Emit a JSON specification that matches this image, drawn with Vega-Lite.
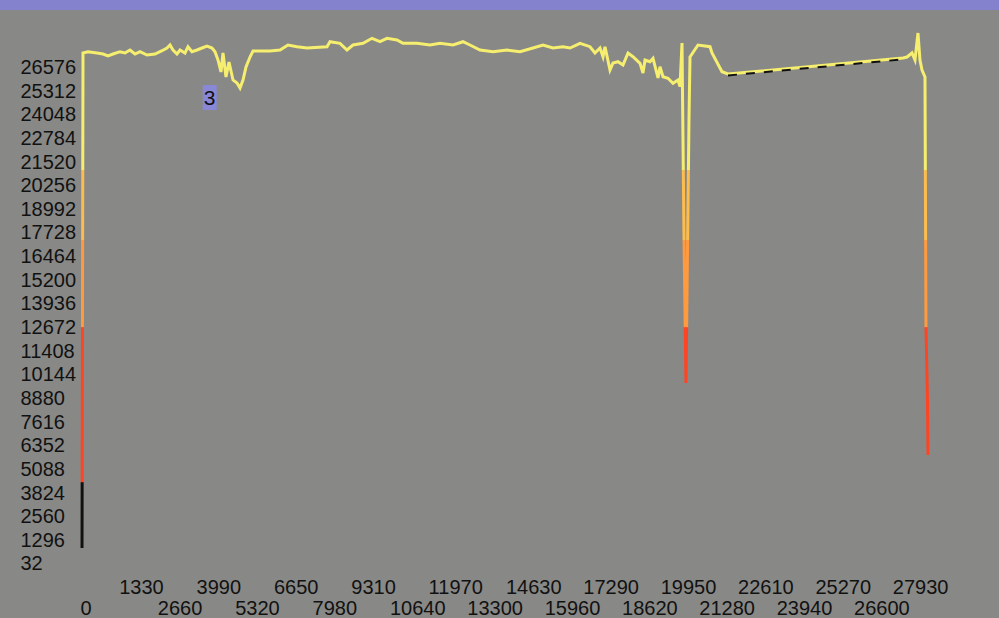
{
  "$schema": "https://vega.github.io/schema/vega-lite/v6.json",
  "width": 999,
  "height": 608,
  "autosize": {"type": "none"},
  "padding": {"top": 10, "left": 0, "right": 0, "bottom": 0},
  "background": "#8482cc",
  "config": {
    "view": {"fill": "#888886", "stroke": null},
    "font": "Liberation Sans",
    "axis": {"labelOverlap": false, "labelBound": false, "labelFlush": false, "labelFontSize": 20, "labelColor": "#111111", "domain": false, "ticks": false, "tickSize": 0, "grid": false, "title": null}
  },
  "datasets": {
    "main": [
      {"x": 69, "y": 887}, {"x": 103, "y": 27350}, {"x": 275, "y": 27420}, {"x": 585, "y": 27350},
      {"x": 791, "y": 27297}, {"x": 963, "y": 27190}, {"x": 1135, "y": 27297}, {"x": 1375, "y": 27420},
      {"x": 1547, "y": 27350}, {"x": 1719, "y": 27510}, {"x": 1891, "y": 27297}, {"x": 2063, "y": 27420},
      {"x": 2304, "y": 27243}, {"x": 2579, "y": 27297}, {"x": 2820, "y": 27473}, {"x": 2991, "y": 27617},
      {"x": 3095, "y": 27778}, {"x": 3198, "y": 27510}, {"x": 3335, "y": 27297}, {"x": 3439, "y": 27510},
      {"x": 3610, "y": 27350}, {"x": 3714, "y": 27687}, {"x": 3851, "y": 27420}, {"x": 4023, "y": 27510},
      {"x": 4195, "y": 27617}, {"x": 4367, "y": 27724}, {"x": 4539, "y": 27617}, {"x": 4642, "y": 27420},
      {"x": 4745, "y": 26976}, {"x": 4848, "y": 26334}, {"x": 4917, "y": 27350}, {"x": 5020, "y": 26067},
      {"x": 5123, "y": 26869}, {"x": 5261, "y": 25907}, {"x": 5398, "y": 25746}, {"x": 5502, "y": 25479},
      {"x": 5605, "y": 25907}, {"x": 5708, "y": 26602}, {"x": 5845, "y": 27136}, {"x": 5949, "y": 27457},
      {"x": 6533, "y": 27457}, {"x": 6877, "y": 27510}, {"x": 7152, "y": 27778}, {"x": 7462, "y": 27687},
      {"x": 7805, "y": 27617}, {"x": 8493, "y": 27687}, {"x": 8595, "y": 27954}, {"x": 8940, "y": 27869},
      {"x": 9181, "y": 27510}, {"x": 9387, "y": 27778}, {"x": 9731, "y": 27869}, {"x": 10040, "y": 28136},
      {"x": 10316, "y": 27954}, {"x": 10556, "y": 28136}, {"x": 10900, "y": 28045}, {"x": 11106, "y": 27869},
      {"x": 11588, "y": 27869}, {"x": 12035, "y": 27778}, {"x": 12379, "y": 27869}, {"x": 12826, "y": 27778},
      {"x": 13169, "y": 27954}, {"x": 13410, "y": 27778}, {"x": 13754, "y": 27510}, {"x": 14201, "y": 27420},
      {"x": 14682, "y": 27510}, {"x": 15129, "y": 27420}, {"x": 15576, "y": 27617}, {"x": 15920, "y": 27778},
      {"x": 16264, "y": 27617}, {"x": 16608, "y": 27687}, {"x": 16849, "y": 27617}, {"x": 17193, "y": 27869},
      {"x": 17536, "y": 27687}, {"x": 17708, "y": 27350}, {"x": 17880, "y": 27617}, {"x": 17983, "y": 27152},
      {"x": 18052, "y": 27687}, {"x": 18224, "y": 26441}, {"x": 18327, "y": 26815}, {"x": 18499, "y": 26885},
      {"x": 18671, "y": 26709}, {"x": 18843, "y": 27350}, {"x": 19015, "y": 27152}, {"x": 19256, "y": 26799},
      {"x": 19359, "y": 26281}, {"x": 19428, "y": 26976}, {"x": 19599, "y": 26885}, {"x": 19703, "y": 27067},
      {"x": 19875, "y": 26014}, {"x": 19943, "y": 26618}, {"x": 20046, "y": 26083}, {"x": 20218, "y": 25998},
      {"x": 20390, "y": 25730}, {"x": 20562, "y": 25907}, {"x": 20631, "y": 25549}, {"x": 20700, "y": 27885},
      {"x": 20769, "y": 17353}, {"x": 20837, "y": 9708}, {"x": 20940, "y": 23768}, {"x": 20975, "y": 27136},
      {"x": 21250, "y": 27778}, {"x": 21663, "y": 27687}, {"x": 21731, "y": 27350}, {"x": 22075, "y": 26350},
      {"x": 22281, "y": 26227}, {"x": 28299, "y": 27083}, {"x": 28436, "y": 27136}, {"x": 28608, "y": 27350},
      {"x": 28711, "y": 26976}, {"x": 28814, "y": 28419}, {"x": 28883, "y": 26976}, {"x": 28952, "y": 26441},
      {"x": 29055, "y": 26067}, {"x": 29089, "y": 12702}, {"x": 29141, "y": 8799}, {"x": 29158, "y": 5859}
    ],
    "gap": [
      {"x": 22281, "y": 26150}, {"x": 28299, "y": 27010}
    ],
    "marker": [
      {"x": 4460, "y": 24971, "label": "3"}
    ]
  },
  "encoding": {
    "x": {
      "field": "x", "type": "quantitative",
      "scale": {"domain": [-2751, 31600], "nice": false, "zero": false},
      "axis": {
        "orient": "bottom", "offset": -41,
        "values": [0, 1330, 2660, 3990, 5320, 6650, 7980, 9310, 10640, 11970, 13300, 14630, 15960, 17290, 18620, 19950, 21280, 22610, 23940, 25270, 26600, 27930],
        "format": "d",
        "labelAlign": "left", "labelBaseline": "top",
        "labelPadding": {"condition": {"test": "datum.value % 2660 === 0", "value": 21}, "value": 0}
      }
    },
    "y": {
      "field": "y", "type": "quantitative",
      "scale": {"domain": [-2855, 29649], "nice": false, "zero": false},
      "axis": {
        "orient": "left", "offset": -20,
        "values": [32, 1296, 2560, 3824, 5088, 6352, 7616, 8880, 10144, 11408, 12672, 13936, 15200, 16464, 17728, 18992, 20256, 21520, 22784, 24048, 25312, 26576],
        "format": "d",
        "labelAlign": "left", "labelBaseline": "middle", "labelPadding": 0
      }
    }
  },
  "layer": [
    {
      "data": {"name": "main"},
      "mark": {
        "type": "line",
        "strokeWidth": 3,
        "strokeJoin": "miter",
        "stroke": {
          "gradient": "linear",
          "x1": 0, "y1": 0, "x2": 0, "y2": 1,
          "stops": [
            {"offset": 0, "color": "#f6ee6e"},
            {"offset": 0.266, "color": "#f6ee6e"},
            {"offset": 0.267, "color": "#fcbd4e"},
            {"offset": 0.402, "color": "#fcbd4e"},
            {"offset": 0.403, "color": "#ff9a3e"},
            {"offset": 0.571, "color": "#ff9a3e"},
            {"offset": 0.572, "color": "#ff4424"},
            {"offset": 0.872, "color": "#ff4424"},
            {"offset": 0.873, "color": "#111111"},
            {"offset": 1, "color": "#111111"}
          ]
        }
      }
    },
    {
      "data": {"name": "gap"},
      "mark": {"type": "line", "stroke": "#111111", "strokeWidth": 2, "strokeDash": [9, 9]}
    },
    {
      "data": {"name": "marker"},
      "mark": {"type": "point", "shape": "M-0.56,-1H0.56V1H-0.56Z", "size": 625, "filled": true, "color": "#8888d6", "opacity": 1, "strokeWidth": 0}
    },
    {
      "data": {"name": "marker"},
      "mark": {"type": "text", "fontSize": 21, "color": "#111111", "align": "center", "baseline": "middle", "dy": 1},
      "encoding": {
        "text": {"field": "label"}
      }
    }
  ]
}
